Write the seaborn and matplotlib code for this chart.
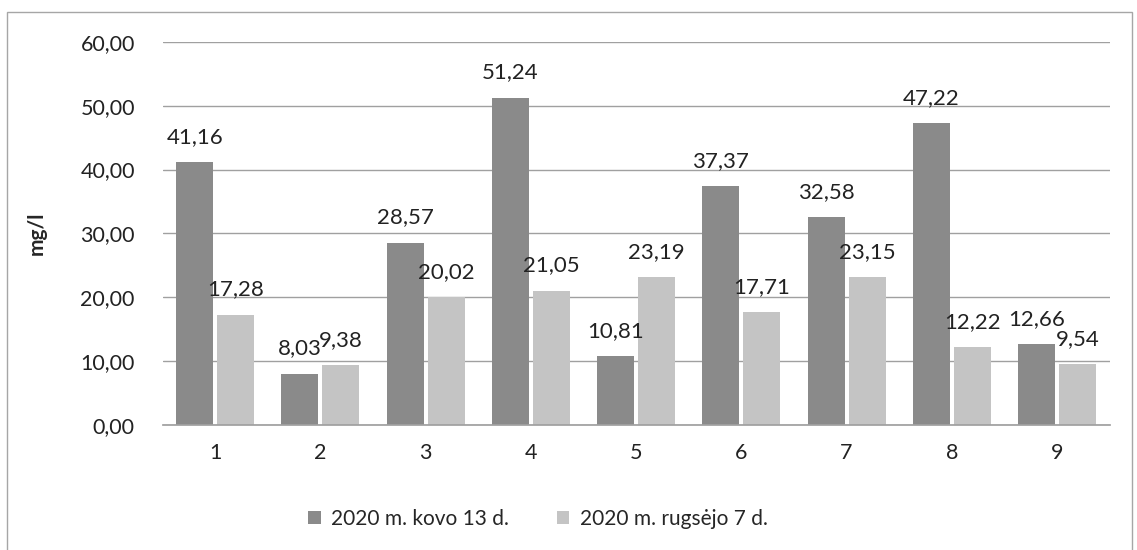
import matplotlib
matplotlib.use("Agg")
import matplotlib.pyplot as plt
import seaborn as sns
import pandas as pd

categories = ["1", "2", "3", "4", "5", "6", "7", "8", "9"]
series_names = ["2020 m. kovo 13 d.", "2020 m. rugsėjo 7 d."]
march = [41.16, 8.03, 28.57, 51.24, 10.81, 37.37, 32.58, 47.22, 12.66]
september = [17.28, 9.38, 20.02, 21.05, 23.19, 17.71, 23.15, 12.22, 9.54]
yticks = [0, 10, 20, 30, 40, 50, 60]

df = pd.DataFrame({
    "cat": categories * 2,
    "val": march + september,
    "series": [series_names[0]] * len(categories) + [series_names[1]] * len(categories),
})

sns.set_theme(style="white")
plt.rcParams["font.family"] = ["Lato", "DejaVu Sans"]

fig = plt.figure(figsize=(11.37, 5.5), dpi=100)
ax = fig.add_axes([0.143, 0.227, 0.833, 0.697])

palette = {series_names[0]: "#8a8a8a", series_names[1]: "#c4c4c4"}
sns.barplot(data=df, x="cat", y="val", hue="series", palette=palette, ax=ax,
            width=0.78, gap=0.1, saturation=1, legend=True, edgecolor="none")

for cont in ax.containers:
    labels = [f"{v:.2f}".replace(".", ",") for v in cont.datavalues]
    ax.bar_label(cont, labels=labels, padding=11, fontsize=16, color="#222222")

ax.set_ylim(0, 60)
ax.set_yticks(yticks)
ax.set_yticklabels([f"{t:.2f}".replace(".", ",") for t in yticks], fontsize=15.5, color="#222222")
ax.tick_params(axis="x", labelsize=15.5, colors="#222222", pad=13, length=0)
ax.tick_params(axis="y", pad=20, length=0)
ax.yaxis.grid(True, color="#a0a0a0", linewidth=1)
ax.set_axisbelow(True)
for s in ["top", "right", "left"]:
    ax.spines[s].set_visible(False)
ax.spines["bottom"].set_color("#a0a0a0")
ax.set_xlabel("")
ax.set_ylabel("mg/l", fontsize=15, fontweight="bold", labelpad=24)
ax.set_xlim(-0.5, len(categories) - 0.5)

handles, lbls = ax.get_legend_handles_labels()
ax.legend(handles, lbls, loc="center", bbox_to_anchor=(0.473, 0.057), bbox_transform=fig.transFigure,
          ncol=2, frameon=False, fontsize=15, handlelength=0.6, handleheight=0.6,
          columnspacing=2.3, handletextpad=0.5)

border = plt.Rectangle((0.006, -0.05), 0.99, 1.028, transform=fig.transFigure, fill=False,
                       edgecolor="#a6a6a6", linewidth=1)
fig.patches.append(border)

fig.savefig("out.png", dpi=100)
